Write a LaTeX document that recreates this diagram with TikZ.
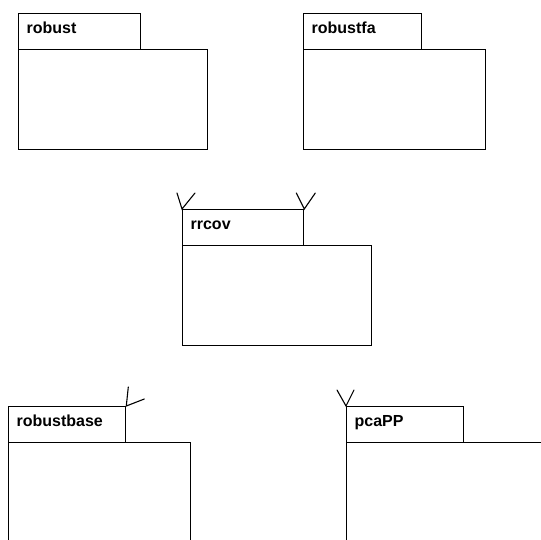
\documentclass[tikz,border=0pt]{standalone}
\usepackage{fontspec}
\setmainfont{Liberation Sans}
\usepackage{xcolor}
\usepackage{tikz}
\usetikzlibrary{positioning}
\definecolor{ink}{HTML}{000000}
\definecolor{paper}{HTML}{FFFFFF}
\tikzset{
  pkgtab/.style={draw=ink, line width=1.3pt, fill=paper, anchor=north west, align=left,
    text width=#1, inner xsep=8pt, inner ysep=7pt, text height=13pt, text depth=9pt,
    font=\fontsize{16}{19}\selectfont\bfseries},
  pkgbody/.style={draw=ink, line width=1.3pt, fill=paper, anchor=north west, inner sep=0pt},
  tip/.style={draw=ink, line width=1.1pt, line cap=round, line join=miter},
}
\begin{document}
\begin{tikzpicture}[x=1pt, y=-1pt]
  \useasboundingbox (0,0) rectangle (541,539);
  \clip (0,0) rectangle (541,539);

  % upper row
  \node[pkgbody, minimum width=189pt, minimum height=100pt] (robust-body) at (18,49) {};
  \node[pkgtab=106pt] (robust-tab) at (18,13) {robust};

  \node[pkgbody, minimum width=182pt, minimum height=100pt] (robustfa-body) at (303,49) {};
  \node[pkgtab=102pt] (robustfa-tab) at (303,13) {robustfa};

  % middle
  \node[pkgbody, minimum width=189pt, minimum height=100pt] (rrcov-body) at (182,245) {};
  \node[pkgtab=105pt] (rrcov-tab) at (182,209) {rrcov};

  % lower row (runs off the page)
  \node[pkgbody, minimum width=182pt, minimum height=110pt] (robustbase-body) at (8,442) {};
  \node[pkgtab=101pt] (robustbase-tab) at (8,406) {robustbase};

  \node[pkgbody, minimum width=210pt, minimum height=110pt] (pcaPP-body) at (346,442) {};
  \node[pkgtab=101pt] (pcaPP-tab) at (346,406) {pcaPP};

  % open arrow tips
  \draw[tip] (rrcov-tab.north west) ++(-5,-16) -- (rrcov-tab.north west) -- ++(13,-16);
  \draw[tip] (rrcov-tab.north east) ++(-8,-16) -- (rrcov-tab.north east) -- ++(11,-16);
  \draw[tip] (robustbase-tab.north east) ++(2,-19) -- (robustbase-tab.north east) -- ++(18,-7);
  \draw[tip] (pcaPP-tab.north west) ++(-9,-16) -- (pcaPP-tab.north west) -- ++(8,-16);
\end{tikzpicture}
\end{document}
